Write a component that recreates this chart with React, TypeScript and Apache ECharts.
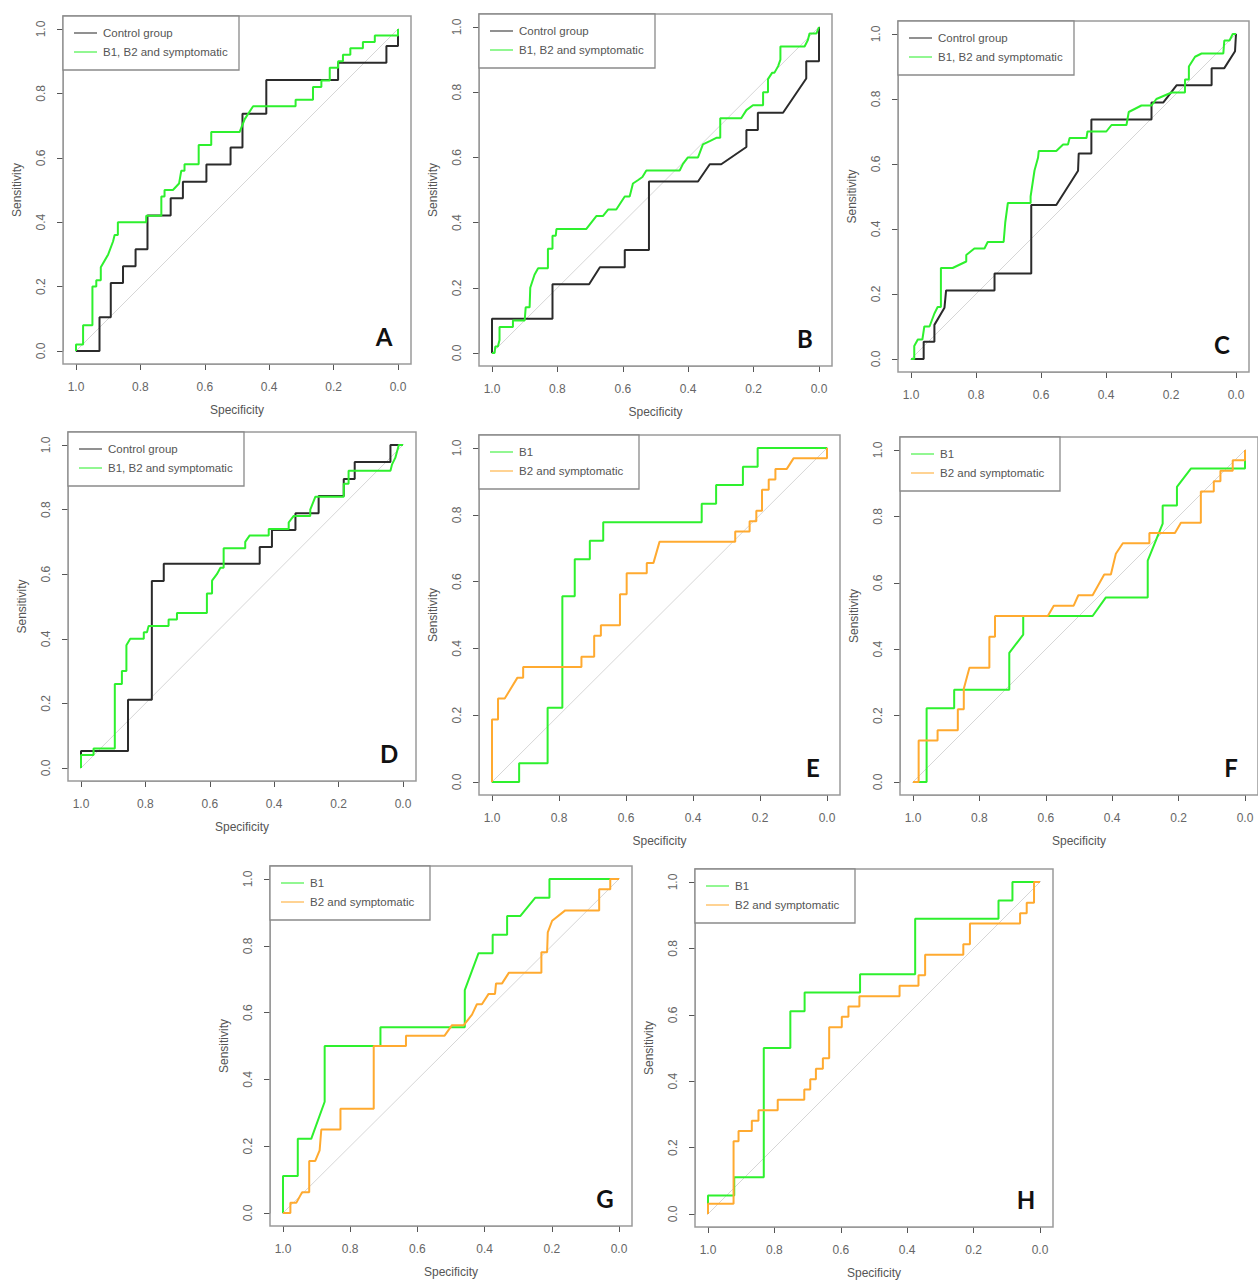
import React, { useEffect, useRef } from "react";
import * as echarts from "echarts";

// ---- texts ----
const PANEL_LETTERS = ["A", "B", "C", "D", "E", "F", "G", "H"];
const NAMES_CONTROL = ["Control group", "B1, B2 and symptomatic"];
const NAMES_B1 = ["B1", "B2 and symptomatic"];
const X_TITLE = "Specificity";
const Y_TITLE = "Sensitivity";

// ---- ROC curves: [specificity, sensitivity] ----
const A_CONTROL = [[1,0],[0.927,0],[0.927,0.105],[0.892,0.105],[0.892,0.211],[0.854,0.211],[0.854,0.263],[0.815,0.263],[0.815,0.316],[0.778,0.316],[0.778,0.421],[0.706,0.421],[0.706,0.474],[0.668,0.474],[0.668,0.526],[0.595,0.526],[0.595,0.579],[0.52,0.579],[0.52,0.632],[0.483,0.632],[0.483,0.737],[0.409,0.737],[0.409,0.842],[0.186,0.842],[0.186,0.895],[0.036,0.895],[0.036,0.947],[0,0.947],[0,1]];
const A_B1B2S = [[1,0],[1,0.02],[0.978,0.02],[0.978,0.08],[0.949,0.08],[0.949,0.2],[0.937,0.2],[0.937,0.22],[0.923,0.22],[0.923,0.26],[0.9,0.3],[0.885,0.34],[0.88,0.36],[0.87,0.36],[0.87,0.4],[0.782,0.4],[0.782,0.42],[0.735,0.42],[0.735,0.48],[0.725,0.48],[0.725,0.5],[0.699,0.5],[0.68,0.52],[0.673,0.56],[0.663,0.56],[0.663,0.58],[0.619,0.58],[0.619,0.64],[0.58,0.64],[0.58,0.68],[0.492,0.68],[0.476,0.72],[0.45,0.76],[0.318,0.76],[0.318,0.78],[0.264,0.78],[0.264,0.82],[0.238,0.82],[0.238,0.84],[0.212,0.84],[0.212,0.88],[0.186,0.88],[0.186,0.9],[0.171,0.9],[0.171,0.92],[0.148,0.92],[0.148,0.94],[0.109,0.94],[0.109,0.96],[0.072,0.96],[0.072,0.98],[0,0.98],[0,1]];

const B_CONTROL = [[1,0],[1,0.105],[0.815,0.105],[0.815,0.211],[0.703,0.211],[0.67,0.263],[0.594,0.263],[0.594,0.316],[0.52,0.316],[0.52,0.526],[0.37,0.526],[0.334,0.579],[0.299,0.579],[0.222,0.632],[0.222,0.684],[0.187,0.684],[0.187,0.737],[0.11,0.737],[0.039,0.842],[0.039,0.895],[0,0.895],[0,1]];
const B_B1B2S = [[1,0],[0.992,0],[0.99,0.02],[0.982,0.02],[0.977,0.04],[0.977,0.08],[0.936,0.08],[0.936,0.1],[0.9,0.1],[0.897,0.14],[0.885,0.14],[0.883,0.2],[0.87,0.24],[0.859,0.26],[0.829,0.26],[0.829,0.32],[0.815,0.32],[0.815,0.36],[0.805,0.36],[0.803,0.38],[0.712,0.38],[0.681,0.42],[0.661,0.42],[0.645,0.44],[0.62,0.44],[0.594,0.48],[0.579,0.48],[0.569,0.52],[0.554,0.53],[0.54,0.54],[0.528,0.56],[0.426,0.56],[0.416,0.58],[0.401,0.6],[0.37,0.6],[0.355,0.64],[0.334,0.65],[0.314,0.66],[0.302,0.66],[0.302,0.72],[0.238,0.72],[0.222,0.745],[0.202,0.76],[0.171,0.76],[0.171,0.8],[0.156,0.8],[0.156,0.84],[0.143,0.86],[0.136,0.86],[0.125,0.88],[0.118,0.9],[0.118,0.94],[0.044,0.94],[0.034,0.96],[0.029,0.98],[0.008,0.98],[0,1]];

const C_CONTROL = [[1,0],[0.961,0],[0.961,0.053],[0.928,0.053],[0.928,0.105],[0.897,0.158],[0.892,0.211],[0.743,0.211],[0.743,0.263],[0.63,0.263],[0.63,0.474],[0.553,0.474],[0.486,0.579],[0.484,0.632],[0.445,0.632],[0.445,0.737],[0.26,0.737],[0.26,0.789],[0.224,0.789],[0.183,0.842],[0.075,0.842],[0.075,0.895],[0.036,0.895],[0.003,0.947],[0,1]];
const C_B1B2S = [[1,0],[0.99,0],[0.99,0.04],[0.979,0.06],[0.965,0.06],[0.959,0.1],[0.943,0.1],[0.928,0.14],[0.918,0.16],[0.908,0.16],[0.908,0.28],[0.872,0.28],[0.83,0.3],[0.83,0.32],[0.805,0.34],[0.774,0.34],[0.764,0.36],[0.715,0.36],[0.71,0.42],[0.702,0.48],[0.632,0.48],[0.632,0.5],[0.62,0.58],[0.609,0.62],[0.607,0.64],[0.553,0.64],[0.532,0.66],[0.517,0.66],[0.512,0.68],[0.46,0.68],[0.457,0.7],[0.399,0.7],[0.383,0.72],[0.337,0.72],[0.33,0.76],[0.291,0.78],[0.26,0.78],[0.245,0.8],[0.198,0.82],[0.157,0.82],[0.157,0.86],[0.145,0.86],[0.145,0.9],[0.126,0.93],[0.106,0.94],[0.039,0.94],[0.036,0.98],[0.02,0.98],[0.01,1],[0,1]];

const D_CONTROL = [[1,0],[1,0.053],[0.854,0.053],[0.854,0.211],[0.78,0.211],[0.78,0.579],[0.743,0.579],[0.743,0.632],[0.445,0.632],[0.445,0.684],[0.407,0.684],[0.407,0.737],[0.334,0.737],[0.334,0.789],[0.262,0.789],[0.262,0.842],[0.184,0.842],[0.184,0.895],[0.15,0.895],[0.15,0.947],[0.039,0.947],[0.039,1],[0,1]];
const D_B1B2S = [[1,0],[1,0.04],[0.961,0.04],[0.961,0.06],[0.895,0.06],[0.895,0.26],[0.873,0.26],[0.873,0.3],[0.859,0.3],[0.859,0.38],[0.847,0.4],[0.805,0.4],[0.805,0.42],[0.795,0.42],[0.79,0.44],[0.728,0.44],[0.728,0.46],[0.702,0.46],[0.702,0.48],[0.609,0.48],[0.609,0.54],[0.593,0.54],[0.593,0.58],[0.578,0.6],[0.567,0.62],[0.557,0.62],[0.557,0.68],[0.49,0.68],[0.49,0.7],[0.476,0.72],[0.417,0.72],[0.417,0.74],[0.355,0.74],[0.355,0.76],[0.34,0.78],[0.288,0.78],[0.288,0.8],[0.272,0.84],[0.184,0.84],[0.184,0.88],[0.169,0.88],[0.169,0.92],[0.039,0.92],[0.034,0.94],[0.024,0.96],[0.013,1],[0,1]];

const E_B1 = [[1,0],[0.919,0],[0.919,0.056],[0.834,0.056],[0.834,0.222],[0.79,0.222],[0.79,0.556],[0.753,0.556],[0.753,0.667],[0.708,0.667],[0.708,0.722],[0.668,0.722],[0.668,0.778],[0.374,0.778],[0.374,0.833],[0.331,0.833],[0.331,0.889],[0.251,0.889],[0.251,0.944],[0.207,0.944],[0.207,1],[0,1]];
const E_B2S = [[1,0],[1,0.1875],[0.982,0.1875],[0.982,0.25],[0.962,0.25],[0.924,0.3125],[0.907,0.3125],[0.907,0.344],[0.733,0.344],[0.733,0.375],[0.695,0.375],[0.695,0.438],[0.675,0.438],[0.675,0.469],[0.618,0.469],[0.618,0.5625],[0.598,0.5625],[0.598,0.625],[0.538,0.625],[0.538,0.656],[0.518,0.656],[0.5,0.719],[0.274,0.719],[0.274,0.75],[0.231,0.75],[0.231,0.781],[0.211,0.781],[0.211,0.8125],[0.194,0.8125],[0.194,0.875],[0.174,0.875],[0.174,0.906],[0.154,0.906],[0.154,0.9375],[0.12,0.9375],[0.1,0.969],[0,0.969],[0,1]];

const F_B1 = [[1,0],[0.959,0],[0.959,0.222],[0.876,0.222],[0.876,0.278],[0.71,0.278],[0.71,0.389],[0.668,0.444],[0.668,0.5],[0.459,0.5],[0.419,0.556],[0.293,0.556],[0.293,0.667],[0.248,0.778],[0.248,0.833],[0.205,0.833],[0.205,0.889],[0.163,0.944],[0,0.944],[0,1]];
const F_B2S = [[1,0],[0.983,0],[0.983,0.125],[0.926,0.125],[0.926,0.156],[0.865,0.156],[0.865,0.219],[0.847,0.219],[0.847,0.281],[0.83,0.344],[0.77,0.344],[0.77,0.4375],[0.753,0.4375],[0.753,0.5],[0.594,0.5],[0.576,0.531],[0.516,0.531],[0.502,0.5625],[0.459,0.5625],[0.424,0.625],[0.404,0.625],[0.389,0.6875],[0.368,0.719],[0.288,0.719],[0.288,0.75],[0.211,0.75],[0.193,0.781],[0.133,0.781],[0.133,0.875],[0.094,0.875],[0.094,0.906],[0.074,0.906],[0.074,0.9375],[0.037,0.9375],[0.037,0.969],[0,0.969],[0,1]];

const G_B1 = [[1,0],[1,0.111],[0.956,0.111],[0.956,0.222],[0.916,0.222],[0.876,0.333],[0.876,0.5],[0.71,0.5],[0.71,0.556],[0.459,0.556],[0.459,0.667],[0.418,0.778],[0.376,0.778],[0.376,0.833],[0.333,0.833],[0.333,0.889],[0.294,0.889],[0.249,0.944],[0.207,0.944],[0.207,1],[0,1]];
const G_B2S = [[1,0],[0.978,0],[0.978,0.031],[0.96,0.031],[0.943,0.0625],[0.922,0.0625],[0.922,0.156],[0.904,0.156],[0.891,0.1875],[0.886,0.25],[0.829,0.25],[0.829,0.3125],[0.73,0.3125],[0.73,0.5],[0.634,0.5],[0.634,0.531],[0.519,0.531],[0.497,0.5625],[0.462,0.5625],[0.4375,0.594],[0.423,0.625],[0.408,0.625],[0.388,0.656],[0.369,0.656],[0.366,0.6875],[0.348,0.6875],[0.328,0.719],[0.231,0.719],[0.231,0.781],[0.214,0.781],[0.212,0.84],[0.199,0.875],[0.16,0.906],[0.059,0.906],[0.059,0.969],[0.026,0.969],[0.026,1],[0,1]];

const H_B1 = [[1,0],[1,0.056],[0.921,0.056],[0.921,0.111],[0.832,0.111],[0.832,0.5],[0.752,0.5],[0.752,0.611],[0.709,0.611],[0.709,0.667],[0.542,0.667],[0.542,0.722],[0.376,0.722],[0.376,0.889],[0.125,0.889],[0.125,0.944],[0.083,0.944],[0.083,1],[0,1]];
const H_B2S = [[1,0],[1,0.031],[0.923,0.031],[0.923,0.219],[0.908,0.219],[0.908,0.25],[0.868,0.25],[0.868,0.281],[0.848,0.281],[0.848,0.3125],[0.79,0.3125],[0.79,0.344],[0.71,0.344],[0.71,0.375],[0.692,0.375],[0.692,0.406],[0.675,0.406],[0.675,0.4375],[0.654,0.4375],[0.654,0.469],[0.635,0.469],[0.635,0.5625],[0.597,0.5625],[0.597,0.594],[0.577,0.594],[0.577,0.625],[0.544,0.625],[0.544,0.656],[0.423,0.656],[0.423,0.6875],[0.366,0.6875],[0.366,0.719],[0.346,0.719],[0.346,0.781],[0.231,0.781],[0.231,0.8125],[0.211,0.8125],[0.211,0.875],[0.06,0.875],[0.06,0.906],[0.04,0.906],[0.04,0.9375],[0.018,0.9375],[0.018,1],[0,1]];

const IDENTITY = [[1.04, -0.04], [-0.04, 1.04]];

// ---- styling / layout ----
const C_BLACK = "#2b2b2b";
const C_GREEN = "#2ef02e";
const C_ORANGE = "#ffaa30";
const FONT = "'Liberation Sans', Arial, sans-serif";

// data area (spec 1..0, sens 0..1) of each panel, in px
const LAYOUT = [
  { left: 76, top: 29, w: 322, h: 322 },
  { left: 492, top: 27, w: 327, h: 326 },
  { left: 911, top: 34, w: 325, h: 325 },
  { left: 81, top: 445, w: 322, h: 323 },
  { left: 492, top: 448, w: 335, h: 334 },
  { left: 913, top: 450, w: 332, h: 332 },
  { left: 283, top: 879, w: 336, h: 334 },
  { left: 708, top: 882, w: 332, h: 332 },
];

const PANELS = [
  { curves: [A_CONTROL, A_B1B2S], names: NAMES_CONTROL, colors: [C_BLACK, C_GREEN], xTitle: true },
  { curves: [B_CONTROL, B_B1B2S], names: NAMES_CONTROL, colors: [C_BLACK, C_GREEN], xTitle: true },
  { curves: [C_CONTROL, C_B1B2S], names: NAMES_CONTROL, colors: [C_BLACK, C_GREEN], xTitle: false },
  { curves: [D_CONTROL, D_B1B2S], names: NAMES_CONTROL, colors: [C_BLACK, C_GREEN], xTitle: true },
  { curves: [E_B1, E_B2S], names: NAMES_B1, colors: [C_GREEN, C_ORANGE], xTitle: true },
  { curves: [F_B1, F_B2S], names: NAMES_B1, colors: [C_GREEN, C_ORANGE], xTitle: true },
  { curves: [G_B1, G_B2S], names: NAMES_B1, colors: [C_GREEN, C_ORANGE], xTitle: true },
  { curves: [H_B1, H_B2S], names: NAMES_B1, colors: [C_GREEN, C_ORANGE], xTitle: true },
];

function buildOption() {
  const grid: any[] = [];
  const xAxis: any[] = [];
  const yAxis: any[] = [];
  const series: any[] = [];
  const graphic: any[] = [];

  PANELS.forEach((p, i) => {
    const L = LAYOUT[i];
    const extX = Math.round(L.w * 0.04);
    const extY = Math.round(L.h * 0.04);
    const bx = L.left - extX;
    const by = L.top - extY;
    const bw = L.w + 2 * extX;
    const bh = L.h + 2 * extY;

    grid.push({ left: L.left, top: L.top, width: L.w, height: L.h, containLabel: false });

    const labelStyle = { fontSize: 12, color: "#666", fontFamily: FONT };
    const tick = { show: true, inside: false, length: 6, lineStyle: { color: "#555", width: 1 } };
    xAxis.push({
      gridIndex: i, type: "value", min: 0, max: 1, interval: 0.2, inverse: true,
      position: "bottom", offset: extY,
      axisLine: { show: true, onZero: false, lineStyle: { color: "#9a9a9a", width: 1 } },
      axisTick: tick,
      axisLabel: { ...labelStyle, margin: 17, formatter: (v: number) => v.toFixed(1) },
      splitLine: { show: false },
      name: p.xTitle ? X_TITLE : "", nameLocation: "middle", nameGap: 40,
      nameTextStyle: { fontSize: 12, color: "#555", fontFamily: FONT },
    });
    yAxis.push({
      gridIndex: i, type: "value", min: 0, max: 1, interval: 0.2,
      position: "left", offset: extX,
      axisLine: { show: true, onZero: false, lineStyle: { color: "#9a9a9a", width: 1 } },
      axisTick: tick,
      axisLabel: { ...labelStyle, margin: 16, rotate: 90, formatter: (v: number) => v.toFixed(1) },
      splitLine: { show: false },
      name: Y_TITLE, nameLocation: "middle", nameGap: 40,
      nameTextStyle: { fontSize: 12, color: "#555", fontFamily: FONT },
    });

    series.push({
      type: "line", id: `id${i}`, name: "identity", xAxisIndex: i, yAxisIndex: i,
      data: IDENTITY, clip: false, symbol: "none", silent: true, z: 1,
      lineStyle: { color: "#d6d6d6", width: 1 },
    });
    p.curves.forEach((c, k) => {
      series.push({
        type: "line", id: `c${i}_${k}`, name: p.names[k], xAxisIndex: i, yAxisIndex: i,
        data: c, symbol: "none", clip: false, z: 2 + k,
        lineStyle: { color: p.colors[k], width: 2 },
      });
    });

    // box
    graphic.push({
      type: "rect", shape: { x: bx, y: by, width: bw, height: bh }, z: 10, silent: true,
      style: { fill: "none", stroke: "#9a9a9a", lineWidth: 1.5 },
    });
    // legend
    const lw = p.names === NAMES_CONTROL ? 176 : 160;
    graphic.push({
      type: "rect", shape: { x: bx, y: by, width: lw, height: 54 }, z: 11, silent: true,
      style: { fill: "#fff", stroke: "#8a8a8a", lineWidth: 1.3 },
    });
    p.names.forEach((n, k) => {
      const yy = by + 17 + k * 19;
      graphic.push({
        type: "line", shape: { x1: bx + 11, y1: yy, x2: bx + 34, y2: yy }, z: 12, silent: true,
        style: { stroke: p.colors[k], lineWidth: 1.3, opacity: 0.8 },
      });
      graphic.push({
        type: "text", x: bx + 40, y: yy, z: 12, silent: true,
        style: { text: n, fill: "#555", font: `11.5px ${FONT}`, textVerticalAlign: "middle", textAlign: "left" },
      });
    });
    // panel letter
    graphic.push({
      type: "text", x: bx + bw - 27, y: by + bh - 28, z: 12, silent: true,
      style: {
        text: PANEL_LETTERS[i], fill: "#111", font: `bold 24px Lato, 'Open Sans', sans-serif`,
        textAlign: "center", textVerticalAlign: "middle",
      },
    });
  });

  return { animation: false, backgroundColor: "#fff", grid, xAxis, yAxis, series, graphic };
}

export default function App() {
  const ref = useRef<HTMLDivElement>(null);
  useEffect(() => {
    if (!ref.current) return;
    const chart = echarts.init(ref.current, undefined, { renderer: "svg" });
    chart.setOption(buildOption());
    return () => chart.dispose();
  }, []);
  return (
    <div
      ref={ref}
      style={{ position: "absolute", left: 0, top: 0, width: 1258, height: 1284, background: "#fff" }}
    />
  );
}
